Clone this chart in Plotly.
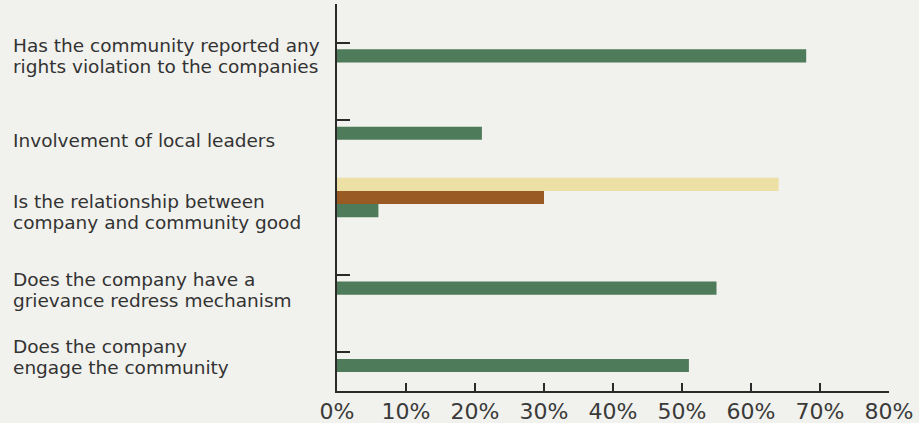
import plotly.graph_objects as go

# Survey questions, top to bottom
questions = [
    "Has the community reported any<br>rights violation to the companies",
    "Involvement of local leaders",
    "Is the relationship between<br>company and community good",
    "Does the company have a<br>grievance redress mechanism",
    "Does the company<br>engage the community",
]

# Share of responses per answer group (fractions)
green_vals = [0.68, 0.21, 0.06, 0.55, 0.51]
brown_vals = [0.0, 0.0, 0.30, 0.0, 0.0]
beige_vals = [0.0, 0.0, 0.64, 0.0, 0.0]

x_ticks = [0, 0.1, 0.2, 0.3, 0.4, 0.5, 0.6, 0.7, 0.8]

BG = "#f1f1ed"
INK = "#333333"

fig = go.Figure()
for vals, color in [(green_vals, "#4e7b59"), (brown_vals, "#9a5a24"), (beige_vals, "#ece0a4")]:
    fig.add_trace(go.Bar(
        x=vals, y=questions, orientation="h",
        marker=dict(color=color, line=dict(width=0)),
        hoverinfo="skip",
    ))

W, H = 919, 423
L, R, T, B = 337, 30, 4, 32
plot_w = W - L - R
LINE_H = 21
# extra vertical nudge (px, downward) for each question label
label_nudge = [0, 7, 1, 2, -8]

# Left-aligned question labels, one annotation per text line
for q, nudge in zip(questions, label_nudge):
    lines = q.split("<br>")
    n = len(lines)
    for i, line in enumerate(lines):
        fig.add_annotation(
            x=-(L - 11) / plot_w, xref="paper", y=q, yref="y",
            text=line, showarrow=False, xanchor="left", yanchor="middle",
            yshift=-13 - nudge - (i - (n - 1) / 2) * LINE_H,
            font=dict(family="DejaVu Sans", size=18.5, color=INK),
        )

fig.update_layout(
    width=W, height=H,
    margin=dict(l=L, r=R, t=T, b=B, autoexpand=False),
    paper_bgcolor=BG, plot_bgcolor=BG,
    barmode="group", bargap=0.49, bargroupgap=0,
    showlegend=False,
)
fig.update_xaxes(
    range=[0, 0.8], tickvals=x_ticks, tickformat=".0%",
    showgrid=False, zeroline=False, automargin=False,
    showline=True, linecolor="#2a2a2a", linewidth=2,
    ticks="inside", ticklen=8, tickwidth=2, tickcolor="#2a2a2a",
    tickfont=dict(family="DejaVu Sans", size=22, color="#3a3a3a"),
    layer="below traces",
)
fig.update_yaxes(
    categoryorder="array", categoryarray=questions[::-1],
    showgrid=False, zeroline=False, showticklabels=False, automargin=False,
    showline=True, linecolor="#2a2a2a", linewidth=2,
    ticks="inside", ticklen=13, tickwidth=2, tickcolor="#2a2a2a",
    layer="below traces",
)

fig.write_html("out.html")
